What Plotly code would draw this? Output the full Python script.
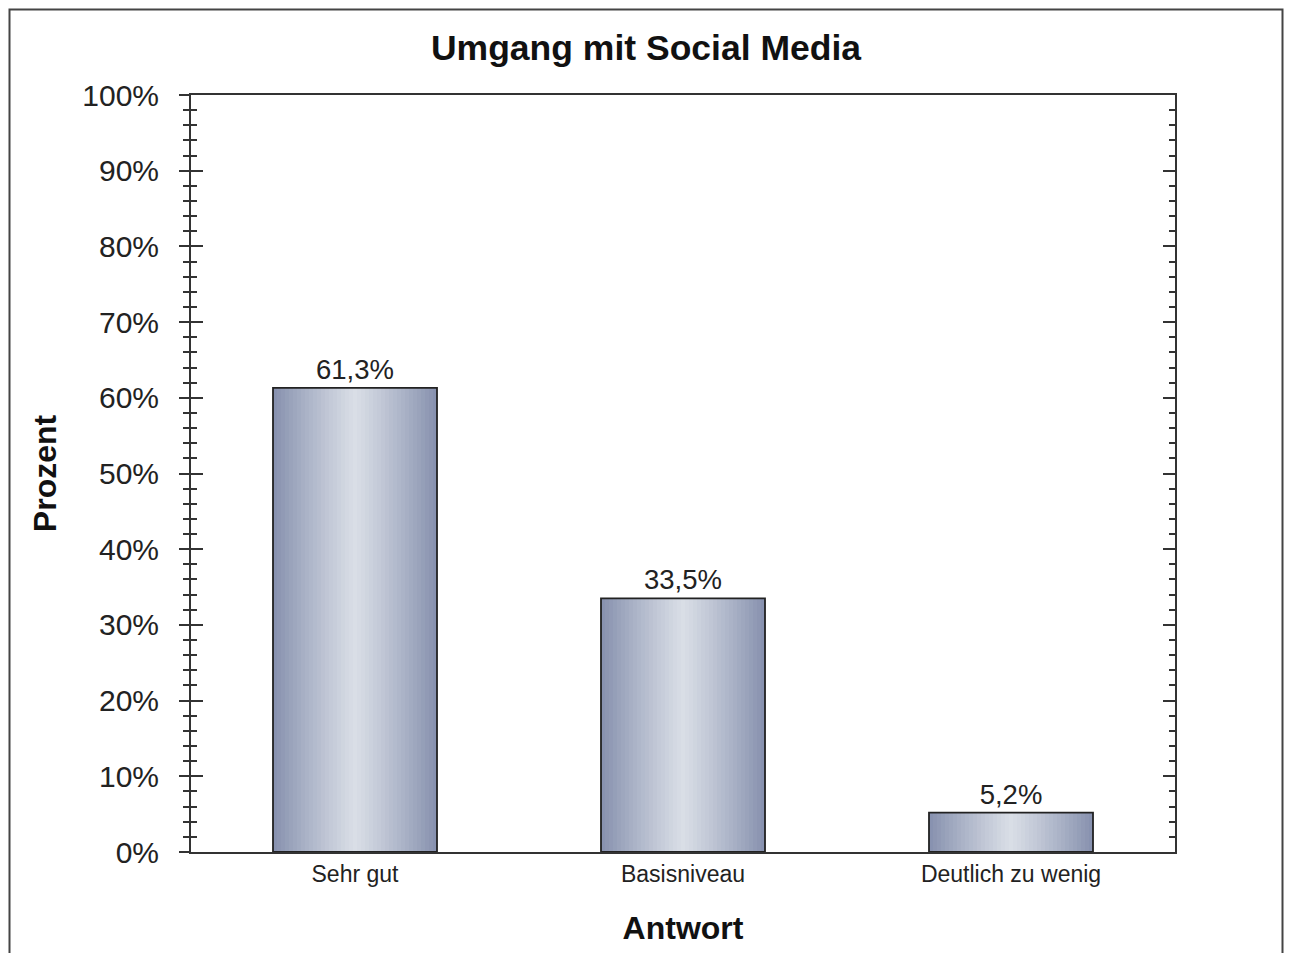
import plotly.graph_objects as go

categories = ["Sehr gut", "Basisniveau", "Deutlich zu wenig"]
values = [61.3, 33.5, 5.2]
labels = [f"{v:.1f}".replace(".", ",") + "%" for v in values]
y_ticks = list(range(0, 101, 10))
y_ticktext = [f"{t}%" for t in y_ticks]

FONT = "Arial, 'Liberation Sans', Helvetica, sans-serif"
edge = (134, 144, 174)
center = (217, 222, 230)
N = 41
bar_w = 0.5
step = bar_w / N

# page has an 8px body margin, so figure coordinates are offset by 8
W, H = 1276, 945
L, T = 183, 87
R = W - (1175 - 8)
B = H - (852 - 8)

fig = go.Figure()
for i in range(N):
    pos = (i + 0.5) / N
    t = abs(pos - 0.5) * 2
    t = t ** 1.1
    col = tuple(int(round(center[k] + (edge[k] - center[k]) * t)) for k in range(3))
    fig.add_trace(go.Bar(
        x=categories, y=values,
        width=step * 1.02, offset=-bar_w / 2 + i * step,
        marker=dict(color=f"rgb{col}", line=dict(width=0)),
        hoverinfo="skip", showlegend=False,
    ))

fig.add_trace(go.Bar(
    x=categories, y=values, width=bar_w, offset=-bar_w / 2,
    marker=dict(color="rgba(0,0,0,0)", line=dict(color="#222222", width=1.8)),
    text=labels, textposition="outside", cliponaxis=False,
    textfont=dict(size=27.5, color="#222222", family=FONT),
    hoverinfo="skip", showlegend=False,
))

fig.update_layout(
    width=W, height=H,
    margin=dict(l=L, r=R, t=T, b=B),
    paper_bgcolor="white", plot_bgcolor="white",
    barmode="overlay",
    font=dict(family=FONT, color="#222222"),
    title=dict(text="<b>Umgang mit Social Media</b>", x=(646 - 8) / W, xref="container",
               y=1 - 40 / H, yref="container", yanchor="middle", xanchor="center",
               font=dict(size=35.5, color="#111111", family=FONT)),
    xaxis=dict(
        type="category", range=[-0.5, 2.5],
        showline=True, linecolor="#333333", linewidth=2, mirror=True,
        ticks="", showgrid=False, zeroline=False,
        tickfont=dict(size=23, color="#222222", family=FONT),
        title=dict(text="<b>Antwort</b>", font=dict(size=32, color="#111111", family=FONT), standoff=31),
    ),
    yaxis=dict(
        range=[0, 100], tickmode="array", tickvals=y_ticks, ticktext=y_ticktext,
        ticks="outside", ticklen=10, tickwidth=2, tickcolor="#333333",
        minor=dict(dtick=2, ticks="outside", ticklen=6, tickwidth=2, tickcolor="#333333"),
        showline=True, linecolor="#333333", linewidth=2, mirror=False,
        showgrid=False, zeroline=False,
        ticklabelstandoff=14,
        tickfont=dict(size=30, color="#222222", family=FONT),
        title=dict(text="<b>Prozent</b>", font=dict(size=32, color="#111111", family=FONT), standoff=16),
    ),
    yaxis2=dict(
        overlaying="y", side="left", range=[0, 100],
        tickmode="linear", tick0=0, dtick=10,
        ticks="inside", ticklen=12, tickwidth=2, tickcolor="#333333",
        minor=dict(dtick=2, ticks="inside", ticklen=6, tickwidth=2, tickcolor="#333333"),
        showline=True, linecolor="#333333", linewidth=2, mirror="ticks",
        showticklabels=False, showgrid=False, zeroline=False,
    ),
)

# keep a dummy trace on yaxis2 so that it is drawn
fig.add_trace(go.Scatter(x=[categories[0]], y=[None], yaxis="y2", showlegend=False, hoverinfo="skip"))

# outer frame (figure pixel coordinates converted to paper units)
pw, ph = W - L - R, H - T - B
fx0, fx1, fy_top, fy_bot = 1.5, W - 1.5, 1.5, H + 3
fig.add_shape(type="rect", xref="paper", yref="paper",
              x0=(fx0 - L) / pw, x1=(fx1 - L) / pw,
              y0=((H - B) - fy_bot) / ph, y1=((H - B) - fy_top) / ph,
              line=dict(color="#444444", width=2), fillcolor="rgba(0,0,0,0)", layer="below")

fig.write_html("out.html")
